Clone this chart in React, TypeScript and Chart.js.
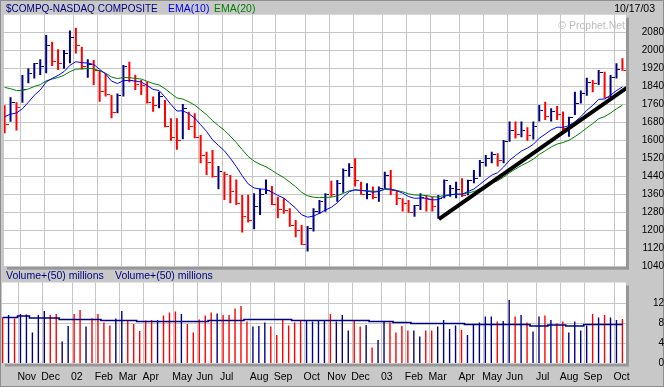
import React, { useEffect, useRef } from "react";
import { Chart, registerables } from "chart.js";

Chart.register(...registerables);

// Weekly bars: index 0 = week ending 19 Oct 2001 ... index 104 = week ending 17 Oct 2003
const weekHigh = [
  1758, 1793, 1771, 1892, 1922, 1945, 1962, 2070, 2040, 2006,
  2003, 2090, 2102, 2018, 1962, 1959, 1914, 1899, 1803, 1810,
  1936, 1951, 1893, 1870, 1862, 1796, 1818, 1781, 1700, 1700,
  1763, 1729, 1722, 1625, 1551, 1559, 1488, 1462, 1448, 1428,
  1359, 1360, 1366, 1388, 1428, 1399, 1351, 1344, 1300, 1248,
  1225, 1221, 1300, 1336, 1366, 1422, 1425, 1477, 1500, 1522,
  1418, 1411, 1396, 1396, 1462, 1470, 1380, 1344, 1336, 1314,
  1366, 1359, 1351, 1359, 1428, 1403, 1418, 1433, 1427, 1470,
  1514, 1537, 1551, 1544, 1603, 1685, 1685, 1685, 1660, 1685,
  1759, 1773, 1744, 1754, 1730, 1707, 1818, 1823, 1880, 1870,
  1914, 1907, 1892, 1944, 1966,
];
const weekLow = [
  1633, 1684, 1645, 1769, 1855, 1877, 1892, 1900, 1932, 1914,
  1920, 1944, 1988, 1917, 1880, 1848, 1773, 1796, 1700, 1722,
  1796, 1860, 1825, 1803, 1765, 1729, 1744, 1660, 1600, 1560,
  1606, 1648, 1611, 1500, 1448, 1437, 1384, 1336, 1322, 1314,
  1192, 1236, 1206, 1270, 1363, 1314, 1255, 1275, 1218, 1171,
  1136, 1108, 1196, 1274, 1284, 1351, 1329, 1369, 1440, 1396,
  1360, 1340, 1340, 1329, 1388, 1359, 1314, 1285, 1280, 1262,
  1292, 1285, 1285, 1253, 1344, 1351, 1344, 1350, 1358, 1411,
  1440, 1485, 1500, 1485, 1500, 1595, 1610, 1615, 1600, 1605,
  1685, 1692, 1685, 1692, 1635, 1618, 1714, 1765, 1800, 1815,
  1848, 1788, 1788, 1877, 1911,
];
const weekClose = [
  1671, 1769, 1746, 1828, 1898, 1941, 1930, 2021, 1953, 1945,
  1987, 2059, 2022, 1930, 1937, 1911, 1818, 1805, 1724, 1802,
  1929, 1868, 1851, 1845, 1770, 1756, 1796, 1663, 1613, 1601,
  1741, 1661, 1615, 1535, 1505, 1440, 1463, 1448, 1373, 1319,
  1262, 1247, 1306, 1361, 1380, 1315, 1295, 1291, 1221, 1199,
  1139, 1210, 1287, 1331, 1360, 1359, 1411, 1468, 1479, 1422,
  1362, 1363, 1348, 1387, 1447, 1377, 1343, 1320, 1282, 1310,
  1349, 1338, 1306, 1341, 1421, 1387, 1383, 1358, 1425, 1434,
  1502, 1520, 1538, 1510, 1596, 1646, 1626, 1645, 1625, 1664,
  1733, 1708, 1731, 1715, 1653, 1702, 1765, 1810, 1858, 1855,
  1905, 1792, 1880, 1915, 1912,
];
// U = up week (navy), D = down week (red)
const weekDirection = (
  "DUDUUUUUDD" + "UUDDUDDDDU" + "UDDDDDUDDD" + "UDDDDDUDDD" + "DDUUUDDDDD" +
  "DUUUUDUUUD" + "DUDUUDDDDU" + "UDDUUUUDUU" + "UUUDUUDUDU" + "UDUDDUUUUD" + "UDUUD"
).split("");
const ema10 = [
  1707, 1718, 1723, 1742, 1771, 1802, 1825, 1861, 1877, 1890,
  1907, 1935, 1951, 1947, 1945, 1939, 1917, 1897, 1865, 1854,
  1867, 1868, 1865, 1861, 1845, 1828, 1823, 1794, 1761, 1732,
  1733, 1720, 1701, 1671, 1641, 1604, 1579, 1555, 1522, 1485,
  1444, 1408, 1390, 1385, 1384, 1371, 1357, 1345, 1323, 1300,
  1271, 1260, 1265, 1277, 1292, 1304, 1324, 1350, 1373, 1382,
  1379, 1376, 1371, 1374, 1387, 1385, 1378, 1367, 1352, 1344,
  1345, 1344, 1337, 1338, 1353, 1359, 1363, 1362, 1374, 1385,
  1406, 1427, 1447, 1458, 1483, 1513, 1534, 1554, 1567, 1584,
  1611, 1629, 1648, 1660, 1659, 1667, 1684, 1707, 1735, 1757,
  1784, 1785, 1802, 1823, 1839,
];
const ema20 = [
  1837, 1831, 1823, 1823, 1830, 1841, 1849, 1866, 1874, 1881,
  1891, 1907, 1918, 1919, 1921, 1920, 1910, 1900, 1883, 1876,
  1881, 1880, 1877, 1874, 1864, 1854, 1848, 1831, 1810, 1790,
  1785, 1773, 1758, 1737, 1715, 1689, 1667, 1646, 1620, 1592,
  1560, 1530, 1509, 1495, 1484, 1468, 1451, 1436, 1416, 1395,
  1371, 1355, 1349, 1347, 1348, 1349, 1355, 1366, 1377, 1381,
  1379, 1378, 1375, 1376, 1383, 1382, 1379, 1373, 1364, 1359,
  1358, 1356, 1351, 1350, 1357, 1360, 1362, 1362, 1368, 1374,
  1386, 1399, 1412, 1422, 1438, 1458, 1474, 1490, 1503, 1518,
  1539, 1555, 1572, 1585, 1592, 1602, 1618, 1636, 1657, 1676,
  1698, 1707, 1723, 1742, 1758,
];
// volume in millions
const volume = [
  9.2, 9.7, 9.0, 9.9, 9.8, 6.2, 9.7, 10.5, 9.7, 9.9,
  4.4, 7.5, 9.9, 10.7, 7.4, 9.0, 9.9, 8.2, 7.6, 9.0,
  10.5, 8.6, 7.9, 6.5, 8.6, 8.7, 8.7, 9.6, 10.2, 10.4,
  9.9, 7.9, 6.2, 8.8, 9.6, 10.2, 10.0, 9.7, 9.7, 11.0,
  11.5, 8.4, 7.4, 7.5, 8.2, 7.4, 5.7, 8.8, 7.6, 8.2,
  8.6, 8.6, 8.4, 8.6, 8.6, 9.9, 8.4, 9.7, 6.6, 8.6,
  7.4, 7.7, 3.2, 4.7, 8.4, 8.2, 6.2, 7.5, 6.6, 6.6,
  5.4, 6.6, 6.6, 7.4, 8.7, 6.9, 7.6, 6.7, 5.7, 7.9,
  8.2, 9.4, 9.4, 8.4, 8.5, 12.7, 9.4, 9.7, 8.2, 6.4,
  9.4, 9.6, 8.7, 8.0, 8.4, 6.2, 8.4, 6.6, 7.6, 9.9,
  9.2, 9.7, 9.2, 8.7, 8.9,
];
const volumeAvg50 = [
  9.2, 9.2, 9.2, 9.5, 9.5, 9.1, 9.1, 9.1, 9.1, 9.1,
  8.8, 8.8, 8.8, 8.8, 8.8, 8.8, 8.8, 8.6, 8.6, 8.6,
  8.6, 8.6, 8.6, 8.4, 8.4, 8.4, 8.4, 8.4, 8.4, 8.4,
  8.4, 8.4, 8.4, 8.4, 8.4, 8.6, 8.6, 8.6, 8.6, 8.6,
  8.6, 8.8, 8.8, 8.8, 8.8, 8.8, 8.8, 8.8, 8.8, 8.6,
  8.6, 8.6, 8.6, 8.6, 8.6, 8.6, 8.6, 8.6, 8.6, 8.6,
  8.6, 8.6, 8.4, 8.4, 8.4, 8.4, 8.2, 8.2, 8.2, 8.0,
  8.0, 8.0, 8.0, 8.0, 8.0, 8.0, 8.0, 8.0, 7.8, 7.8,
  7.8, 7.8, 7.8, 7.8, 7.8, 7.8, 7.8, 7.8, 7.8, 7.5,
  7.5, 7.5, 7.7, 7.7, 7.7, 7.5, 7.5, 7.5, 7.8, 7.8,
  7.8, 7.8, 7.8, 7.8, 7.8,
];
// hand-drawn trendline (week index, price)
const trendWeek = [73.1, 104.9];
const trendPrice = [1251, 1838];
// month gridlines (first week of each month) and their labels
const monthStartWeek = [3, 7, 12, 16, 20, 24, 29, 33, 37, 42, 46, 51, 55, 59, 64, 68, 72, 77, 81, 85, 90, 94, 98, 103];
const monthLabel = ["Nov", "Dec", "02", "Feb", "Mar", "Apr", "May", "Jun", "Jul", "Aug", "Sep", "Oct",
  "Nov", "Dec", "03", "Feb", "Mar", "Apr", "May", "Jun", "Jul", "Aug", "Sep", "Oct"];
const priceMin = 1040;
const priceMax = 2160;
const priceStep = 80;
const volMax = 16.2;
const volStep = 4;

const W = 664;
const H = 387;
const FONT = "'Liberation Sans', Arial, Helvetica, sans-serif";
const BG = "#C8C8C8";
const SHADOW = "#979797";
const GRID = "#C6C6C6";
const NAVY = "#000080";
const RED = "#FF0000";
const BLUE = "#0000FF";
const GREEN = "#008000";
const X_MIN = -0.1;
const X_MAX = 104.6;

function makeTick(color: string) {
  const c = document.createElement("canvas");
  c.width = 8;
  c.height = 1;
  const g = c.getContext("2d")!;
  g.fillStyle = color;
  g.fillRect(5, 0, 3, 1);
  return c;
}

const monthTicks = (s: any) => {
  s.ticks = monthStartWeek.map((i) => ({ value: i - 0.35 }));
};

const priceChrome = {
  id: "priceChrome",
  beforeDraw(chart: any) {
    const { ctx, chartArea: a, width, height } = chart;
    ctx.save();
    ctx.fillStyle = BG;
    ctx.fillRect(0, 0, width, height);
    ctx.strokeStyle = "#8E8E8E";
    ctx.lineWidth = 1;
    ctx.strokeRect(0.5, 0.5, width - 1, height - 1);
    ctx.fillStyle = SHADOW;
    ctx.fillRect(a.left + 3, a.top + 3, a.right - a.left, a.bottom - a.top);
    ctx.fillStyle = "#FFFFFF";
    ctx.fillRect(a.left, a.top, a.right - a.left, a.bottom - a.top);
    ctx.textBaseline = "alphabetic";
    ctx.textAlign = "left";
    ctx.font = `10px ${FONT}`;
    ctx.fillStyle = NAVY;
    ctx.fillText("$COMPQ-NASDAQ COMPOSITE", 6, 11.7);
    ctx.font = `10.5px ${FONT}`;
    ctx.fillStyle = BLUE;
    ctx.fillText("EMA(10)", 168, 11.7);
    ctx.fillStyle = GREEN;
    ctx.fillText("EMA(20)", 214, 11.7);
    ctx.fillStyle = "#000";
    ctx.textAlign = "right";
    ctx.fillText("10/17/03", 655, 12.3);
    ctx.restore();
  },
  beforeDatasetsDraw(chart: any) {
    const { ctx, chartArea: a } = chart;
    ctx.save();
    ctx.font = `10.5px ${FONT}`;
    ctx.fillStyle = "#BDBDBD";
    ctx.textAlign = "right";
    ctx.textBaseline = "alphabetic";
    ctx.fillText("\u00A9 Prophet.Net", a.right - 1, a.top + 14.5);
    ctx.restore();
  },
};

const volumeChrome = {
  id: "volumeChrome",
  beforeDraw(chart: any) {
    const { ctx, chartArea: a } = chart;
    ctx.save();
    ctx.fillStyle = SHADOW;
    ctx.fillRect(a.left + 3, a.top + 3, a.right - a.left, a.bottom - a.top);
    ctx.fillStyle = "#FFFFFF";
    ctx.fillRect(a.left, a.top, a.right - a.left, a.bottom - a.top);
    ctx.font = `10.5px ${FONT}`;
    ctx.fillStyle = NAVY;
    ctx.textAlign = "left";
    ctx.textBaseline = "alphabetic";
    ctx.fillText("Volume+(50) millions", 6, a.top - 3.5);
    ctx.fillText("Volume+(50) millions", 115, a.top - 3.5);
    ctx.restore();
  },
};

export default function App() {
  const priceRef = useRef<HTMLCanvasElement>(null);
  const volRef = useRef<HTMLCanvasElement>(null);

  useEffect(() => {
    const tickUp = makeTick(NAVY);
    const tickDown = makeTick(RED);
    const barColors = weekDirection.map((d) => (d === "U" ? NAVY : RED));

    const priceChart = new Chart(priceRef.current!, {
      type: "bar",
      data: {
        datasets: [
          {
            type: "line",
            data: trendWeek.map((x, i) => ({ x, y: trendPrice[i] })),
            borderColor: "#000000",
            borderWidth: 4,
            borderCapStyle: "butt",
            pointRadius: 0,
            order: 0,
          } as any,
          {
            type: "line",
            data: ema10.map((y, i) => ({ x: i, y })),
            borderColor: BLUE,
            borderWidth: 1,
            pointRadius: 0,
            tension: 0,
            order: 1,
          },
          {
            type: "line",
            data: ema20.map((y, i) => ({ x: i, y })),
            borderColor: GREEN,
            borderWidth: 1,
            pointRadius: 0,
            tension: 0,
            order: 1,
          },
          {
            type: "line",
            data: weekClose.map((y, i) => ({ x: i, y })),
            showLine: false,
            pointStyle: weekDirection.map((d) => (d === "U" ? tickUp : tickDown)),
            pointRadius: 1,
            pointBorderWidth: 0,
            order: 2,
          } as any,
          {
            type: "bar",
            data: weekHigh.map((h, i) => ({ x: i, y: [weekLow[i], h] })),
            backgroundColor: barColors,
            borderWidth: 0,
            barThickness: 2,
            inflateAmount: 0,
            order: 3,
          } as any,
        ],
      },
      options: {
        responsive: false,
        maintainAspectRatio: false,
        animation: false,
        devicePixelRatio: 1,
        events: [],
        layout: { padding: { left: 2, top: 14.7, right: 0, bottom: H - 266.7 } },
        plugins: { legend: { display: false }, tooltip: { enabled: false }, title: { display: false } },
        scales: {
          x: {
            type: "linear",
            min: X_MIN,
            max: X_MAX,
            offset: false,
            ticks: { display: false },
            grid: { color: GRID, drawTicks: false, offset: false },
            border: { display: false },
            afterBuildTicks: monthTicks,
            afterFit: (s: any) => {
              s.height = 0;
            },
          },
          y: {
            position: "right",
            min: priceMin,
            max: priceMax,
            ticks: {
              stepSize: priceStep,
              color: "#000",
              font: { family: FONT, size: 10 },
              crossAlign: "far",
              padding: 7,
              callback: (v: any) => (v >= priceMax ? "" : String(v)),
            },
            grid: {
              drawTicks: false,
              color: (c: any) => (c.tick && c.tick.value >= priceMax ? "rgba(0,0,0,0)" : GRID),
            },
            border: { display: false },
            afterFit: (s: any) => {
              s.width = W - 626;
            },
          },
        },
      } as any,
      plugins: [priceChrome],
    });

    const volChart = new Chart(volRef.current!, {
      type: "bar",
      data: {
        datasets: [
          {
            type: "line",
            data: volumeAvg50.map((y, i) => ({ x: i, y })),
            borderColor: NAVY,
            borderWidth: 1.6,
            stepped: "middle",
            pointRadius: 0,
            order: 0,
          } as any,
          {
            type: "bar",
            data: volume.map((y, i) => ({ x: i, y })),
            backgroundColor: barColors,
            borderWidth: 0,
            barThickness: 1.4,
            inflateAmount: 0,
            order: 1,
          } as any,
        ],
      },
      options: {
        responsive: false,
        maintainAspectRatio: false,
        animation: false,
        devicePixelRatio: 1,
        events: [],
        layout: { padding: { left: 2, top: 282.5, right: 0, bottom: 0 } },
        plugins: { legend: { display: false }, tooltip: { enabled: false }, title: { display: false } },
        scales: {
          x: {
            type: "linear",
            min: X_MIN,
            max: X_MAX,
            offset: false,
            ticks: {
              autoSkip: false,
              maxRotation: 0,
              minRotation: 0,
              align: "start",
              padding: 7,
              labelOffset: -1,
              color: "#000",
              font: { family: FONT, size: 10.5 },
              callback: (_v: any, i: number) => monthLabel[i],
            },
            grid: { color: GRID, drawTicks: false, offset: false },
            border: { display: false },
            afterBuildTicks: monthTicks,
            afterFit: (s: any) => {
              s.height = H - 363.5;
            },
          },
          y: {
            position: "right",
            min: 0,
            max: volMax,
            ticks: {
              stepSize: volStep,
              color: "#000",
              font: { family: FONT, size: 10 },
              crossAlign: "far",
              padding: 8,
              callback: (v: any) => (v >= 15.9 ? "" : String(v)),
            },
            grid: {
              drawTicks: false,
              color: (c: any) => (c.tick && c.tick.value >= 15.9 ? "rgba(0,0,0,0)" : GRID),
            },
            border: { display: false },
            afterFit: (s: any) => {
              s.width = W - 626;
            },
          },
        },
      } as any,
      plugins: [volumeChrome],
    });

    return () => {
      priceChart.destroy();
      volChart.destroy();
    };
  }, []);

  return (
    <div style={{ position: "absolute", left: 0, top: 0, width: W, height: H }}>
      <canvas ref={priceRef} width={W} height={H} style={{ position: "absolute", left: 0, top: 0 }} />
      <canvas ref={volRef} width={W} height={H} style={{ position: "absolute", left: 0, top: 0 }} />
    </div>
  );
}
